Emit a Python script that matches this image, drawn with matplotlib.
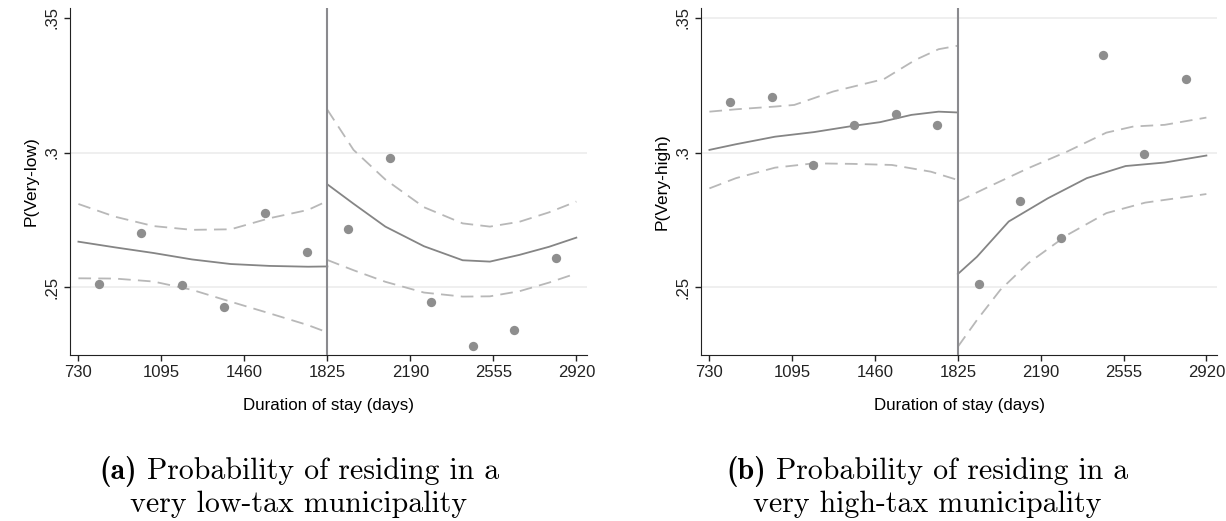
import matplotlib
matplotlib.use("Agg")
import matplotlib.pyplot as plt

plt.rcParams["font.family"] = ["Liberation Sans", "DejaVu Sans"]

# binned means (half-year bins)
bin_x = [821, 1004, 1186, 1369, 1551, 1734, 1916, 2099, 2281, 2464, 2646, 2829]
low_pts = [0.2511, 0.2701, 0.2507, 0.2426, 0.2776, 0.2630,
           0.2715, 0.2981, 0.2446, 0.2281, 0.2340, 0.2608]
high_pts = [0.3188, 0.3207, 0.2952, 0.3102, 0.3142, 0.3102,
            0.2513, 0.2820, 0.2683, 0.3363, 0.2996, 0.3274]

# fitted curves, very-low panel
low_fit_lx = [730, 890, 1060, 1230, 1400, 1570, 1740, 1825]
low_fit_l = [0.2669, 0.2648, 0.2627, 0.2603, 0.2586, 0.2579, 0.2576, 0.2577]
low_hi_l = [0.2809, 0.2762, 0.2727, 0.2713, 0.2715, 0.2756, 0.2787, 0.2820]
low_lo_l = [0.2533, 0.2532, 0.2521, 0.2490, 0.2446, 0.2403, 0.2359, 0.2332]
low_fit_rx = [1825, 1940, 2080, 2250, 2420, 2540, 2670, 2800, 2920]
low_fit_r = [0.2882, 0.2810, 0.2725, 0.2652, 0.2600, 0.2595, 0.2620, 0.2650, 0.2684]
low_hi_r = [0.3159, 0.3010, 0.2900, 0.2797, 0.2737, 0.2725, 0.2743, 0.2778, 0.2818]
low_lo_r = [0.2601, 0.2563, 0.2520, 0.2480, 0.2465, 0.2466, 0.2485, 0.2517, 0.2551]

# fitted curves, very-high panel
high_fit_lx = [730, 847, 1019, 1190, 1362, 1482, 1620, 1740, 1825]
high_fit_l = [0.3010, 0.3031, 0.3059, 0.3076, 0.3099, 0.3113, 0.3140, 0.3152, 0.3149]
high_hi_lx = [730, 850, 1020, 1104, 1276, 1499, 1637, 1740, 1825]
high_hi_l = [0.3152, 0.3161, 0.3171, 0.3177, 0.3227, 0.3273, 0.3344, 0.3384, 0.3397]
high_lo_lx = [730, 847, 1019, 1190, 1362, 1534, 1706, 1825]
high_lo_l = [0.2867, 0.2905, 0.2944, 0.2960, 0.2958, 0.2954, 0.2929, 0.2898]
high_fit_rx = [1825, 1909, 2049, 2221, 2393, 2564, 2736, 2920]
high_fit_r = [0.2549, 0.2613, 0.2744, 0.2830, 0.2905, 0.2950, 0.2963, 0.2989]
high_hi_rx = [1825, 1963, 2135, 2307, 2479, 2599, 2736, 2920]
high_hi_r = [0.2818, 0.2874, 0.2942, 0.3004, 0.3074, 0.3097, 0.3103, 0.3130]
high_lo_rx = [1825, 1909, 2012, 2135, 2307, 2479, 2650, 2920]
high_lo_r = [0.2279, 0.2378, 0.2490, 0.2589, 0.2694, 0.2775, 0.2814, 0.2846]

xticks = [730, 1095, 1460, 1825, 2190, 2555, 2920]
yticks = [0.25, 0.3, 0.35]
ytick_labels = [".25", ".3", ".35"]

fit_col = "#858585"
ci_col = "#b8b8b8"
dot_col = "#8e8e8e"


def draw_panel(ax, pts, fit, hi, lo, ylabel, grid_vals):
    for g in grid_vals:
        ax.axhline(g, color="#ececec", lw=1.2, zorder=0)
    for seg in fit:
        ax.plot(seg[0], seg[1], color=fit_col, lw=1.3, zorder=2)
    for seg in hi + lo:
        ax.plot(seg[0], seg[1], color=ci_col, lw=1.3, ls=(0, (7, 4)), zorder=2)
    ax.scatter(bin_x, pts, s=45, color=dot_col, zorder=3, linewidths=0)
    ax.axvline(1825, color="#8a8a8e", lw=1.5, zorder=4)
    ax.set_xlim(693, 2967)
    ax.set_ylim(0.2248, 0.3537)
    ax.set_xticks(xticks)
    ax.set_xticklabels([str(t) for t in xticks])
    ax.set_yticks(yticks)
    ax.set_yticklabels(ytick_labels, rotation=90, va="center")
    ax.tick_params(labelsize=12, length=4, width=1, colors="#222222")
    ax.spines["top"].set_visible(False)
    ax.spines["right"].set_visible(False)
    ax.spines["left"].set_color("#222222")
    ax.spines["bottom"].set_color("#222222")
    ax.set_ylabel(ylabel, fontsize=12.5, labelpad=4)
    ax.set_xlabel("Duration of stay (days)", fontsize=12.2, labelpad=13)


fig = plt.figure(figsize=(12.26, 5.21), dpi=100)
ax1 = fig.add_axes([0.0571, 0.3186, 0.4217, 0.666])
ax2 = fig.add_axes([0.5718, 0.3186, 0.4209, 0.666])

draw_panel(ax1, low_pts,
           [(low_fit_lx, low_fit_l), (low_fit_rx, low_fit_r)],
           [(low_fit_lx, low_hi_l), (low_fit_rx, low_hi_r)],
           [(low_fit_lx, low_lo_l), (low_fit_rx, low_lo_r)],
           "P(Very-low)", [0.25, 0.3])
draw_panel(ax2, high_pts,
           [(high_fit_lx, high_fit_l), (high_fit_rx, high_fit_r)],
           [(high_hi_lx, high_hi_l), (high_hi_rx, high_hi_r)],
           [(high_lo_lx, high_lo_l), (high_lo_rx, high_lo_r)],
           "P(Very-high)", [0.25, 0.3, 0.35])

# captions: bold tag + roman text, first line centred by measuring
cap_size = 21.5
captions = [("(a)", "very low-tax municipality", 299),
            ("(b)", "very high-tax municipality", 927)]
renderer = fig.canvas.get_renderer()
for tag, second, cx in captions:
    y1 = 1 - 479 / 521
    t1 = fig.text(0, y1, tag, family="cmb10", fontsize=cap_size, va="baseline")
    t2 = fig.text(0, y1, " Probability of residing in a", family="cmr10",
                  fontsize=cap_size, va="baseline")
    w1 = t1.get_window_extent(renderer).width
    w2 = t2.get_window_extent(renderer).width
    x0 = cx - (w1 + w2) / 2
    t1.set_x(x0 / 1226)
    t2.set_x((x0 + w1) / 1226)
    fig.text(cx / 1226, 1 - 512 / 521, second, family="cmr10", fontsize=cap_size,
             ha="center", va="baseline")

fig.savefig("out.png", dpi=100, facecolor="white")
